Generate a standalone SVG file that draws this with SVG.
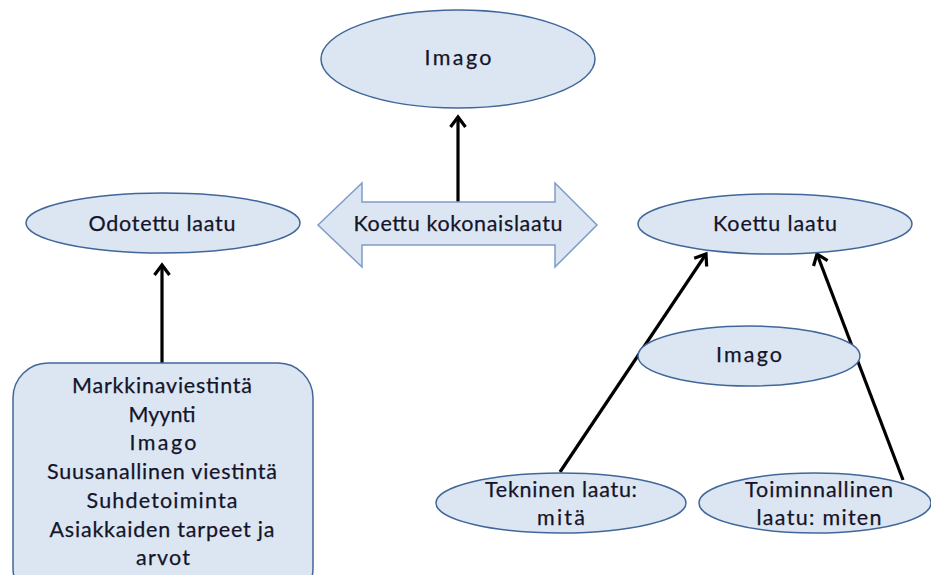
<svg xmlns="http://www.w3.org/2000/svg" width="931" height="575" viewBox="0 0 931 575">
<defs>
<style>
.n{fill:#dce6f2;stroke:#41679a;stroke-width:1.5}
.d{fill:#dce6f2;stroke:#7f9cc8;stroke-width:1.5}
.t{font-family:Lato,"Liberation Sans",sans-serif;font-size:21.5px;fill:#14142a;text-anchor:middle;stroke:#14142a;stroke-width:0.25}
.c{stroke:#000;stroke-width:3.2;fill:none}
</style>
<marker id="ah" viewBox="0 0 20 20" refX="12" refY="10" markerWidth="20" markerHeight="20" markerUnits="userSpaceOnUse" orient="auto">
<path d="M2,2.5 L12,10 L2,17.5" fill="none" stroke="#000" stroke-width="3.2"/>
</marker>
</defs>
<rect width="931" height="575" fill="#fff"/>
<g id="connectors">
<line class="c" x1="458" y1="202" x2="458" y2="117" marker-end="url(#ah)"/>
<line class="c" x1="162" y1="363" x2="162" y2="265" marker-end="url(#ah)"/>
<line class="c" x1="560" y1="472" x2="706" y2="254" marker-end="url(#ah)"/>
<line class="c" x1="903" y1="480" x2="817" y2="254" marker-end="url(#ah)"/>
</g>
<g id="imago-top">
<ellipse class="n" cx="458" cy="59" rx="137" ry="49"/>
<text class="t" x="458" y="65" textLength="67" lengthAdjust="spacing">Imago</text>
</g>
<g id="odotettu">
<ellipse class="n" cx="163" cy="223" rx="137" ry="30"/>
<text class="t" x="162" y="231" textLength="147" lengthAdjust="spacing">Odotettu laatu</text>
</g>
<g id="kokonaislaatu">
<polygon class="d" points="318,225 362,183 362,202 555,202 555,183 597,225 555,267 555,245 362,245 362,267"/>
<text class="t" x="458" y="231" textLength="209" lengthAdjust="spacing">Koettu kokonaislaatu</text>
</g>
<g id="koettu">
<ellipse class="n" cx="775" cy="224" rx="137" ry="30"/>
<text class="t" x="775" y="231" textLength="124" lengthAdjust="spacing">Koettu laatu</text>
</g>
<g id="imago-right">
<ellipse class="n" cx="749" cy="356" rx="111" ry="30"/>
<text class="t" x="749" y="362" textLength="66" lengthAdjust="spacing">Imago</text>
</g>
<g id="tekninen">
<ellipse class="n" cx="561" cy="503" rx="125" ry="30"/>
<text class="t" x="561" y="497" textLength="152" lengthAdjust="spacing">Tekninen laatu:</text>
<text class="t" x="561" y="525" textLength="48" lengthAdjust="spacing">mitä</text>
</g>
<g id="toiminnallinen">
<ellipse class="n" cx="815" cy="503" rx="116" ry="30"/>
<text class="t" x="819" y="497" textLength="148" lengthAdjust="spacing">Toiminnallinen</text>
<text class="t" x="819" y="525" textLength="125" lengthAdjust="spacing">laatu: miten</text>
</g>
<g id="tekijat">
<rect class="n" x="13" y="363" width="300" height="240" rx="35" ry="35"/>
<text class="t" x="162" y="393" textLength="180" lengthAdjust="spacing">Markkinaviestintä</text>
<text class="t" x="162" y="422" textLength="67" lengthAdjust="spacing">Myynti</text>
<text class="t" x="163" y="450" textLength="67" lengthAdjust="spacing">Imago</text>
<text class="t" x="162" y="479" textLength="230" lengthAdjust="spacing">Suusanallinen viestintä</text>
<text class="t" x="162" y="508" textLength="151" lengthAdjust="spacing">Suhdetoiminta</text>
<text class="t" x="162" y="537" textLength="225" lengthAdjust="spacing">Asiakkaiden tarpeet ja</text>
<text class="t" x="163" y="565" textLength="54" lengthAdjust="spacing">arvot</text>
</g>
</svg>
